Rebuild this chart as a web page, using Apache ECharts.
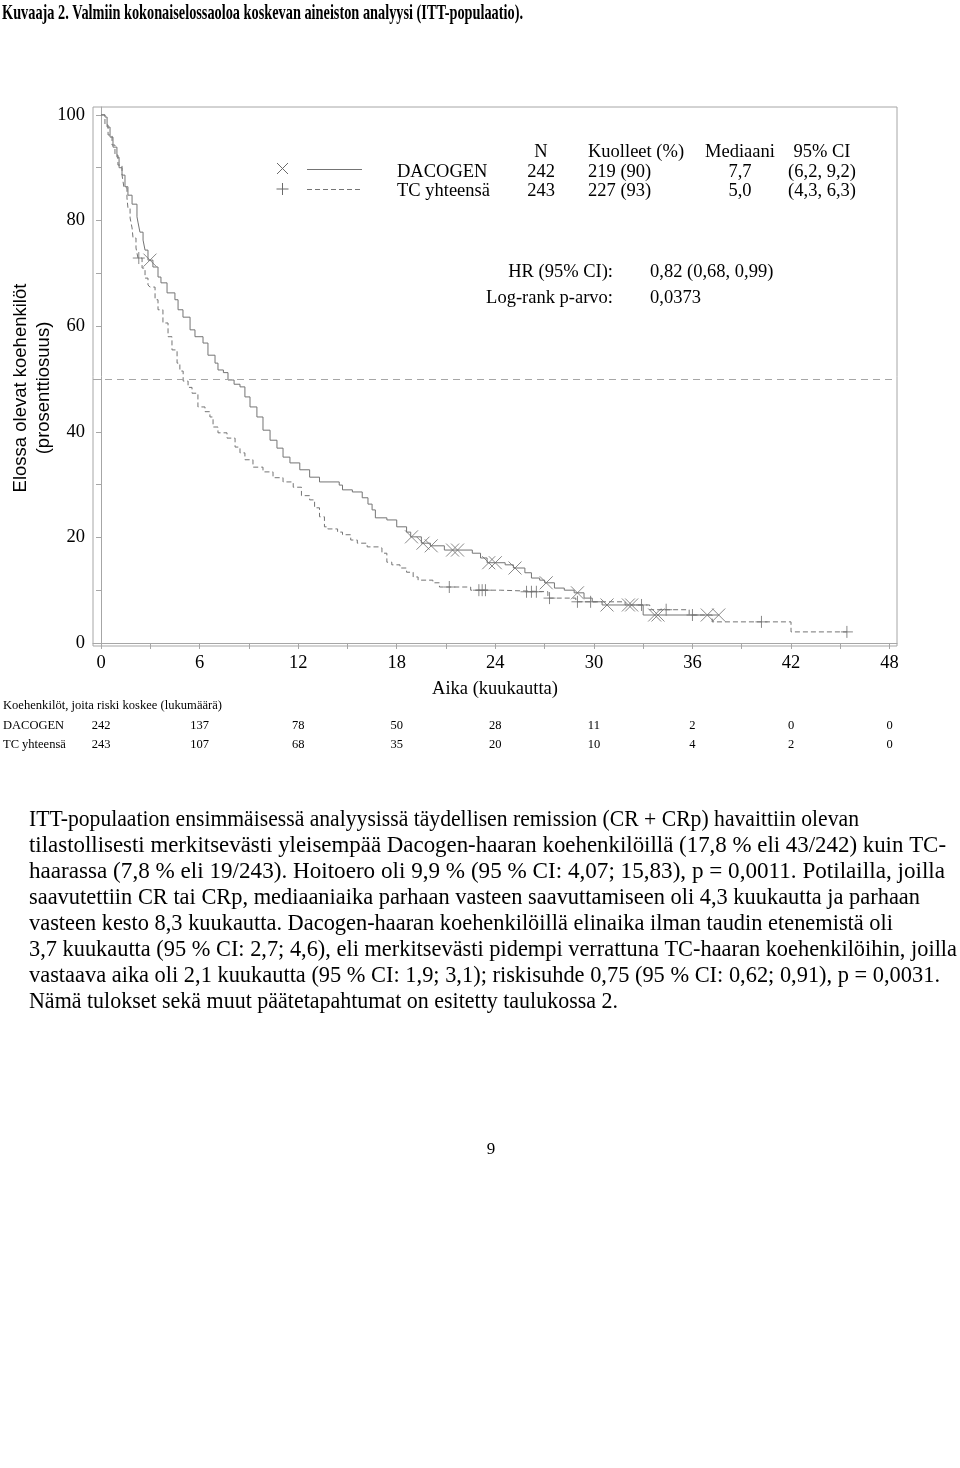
<!DOCTYPE html>
<html><head><meta charset="utf-8">
<script src="https://cdn.jsdelivr.net/npm/echarts@6/dist/echarts.min.js"></script>
<style>html,body{margin:0;padding:0;background:#fff}#c{width:960px;height:1468px}</style>
</head><body><div id="c"></div>
<script>
// ---------- DATA ----------
const monthTicks = [0, 6, 12, 18, 24, 30, 36, 42, 48];
const monthMinorTicks = [0, 3, 6, 9, 12, 15, 18, 21, 24, 27, 30, 33, 36, 39, 42, 45, 48];
const pctTicks = [0, 20, 40, 60, 80, 100];
const pctMinorTicks = [0, 10, 20, 30, 40, 50, 60, 70, 80, 90, 100];
const riskDacogen = [242, 137, 78, 50, 28, 11, 2, 0, 0];
const riskTC = [243, 107, 68, 35, 20, 10, 4, 2, 0];
const medianRef = 50;

const dacogenCurve = [[0,100],[0.24,99.6],[0.37,97.7],[0.55,95.8],[0.73,93.9],[0.97,92.0],[1.10,90.0],[1.28,88.6],[1.46,86.4],[1.64,84.8],[1.89,83.1],[2.19,80.7],[2.25,79.7],[2.37,77.8],[2.56,76.3],[2.68,74.4],[2.86,72.5],[3.16,71.2],[3.47,69.3],[3.65,68.2],[4.02,66.3],[4.50,65.0],[4.69,63.1],[4.99,61.7],[5.42,59.3],[5.72,58.0],[6.21,56.8],[6.51,54.5],[6.94,53.0],[7.12,51.7],[7.45,51.2],[7.73,49.8],[8.1,49.0],[8.46,48.5],[8.76,46.6],[9.07,44.7],[9.49,42.8],[9.86,40.3],[10.29,38.4],[10.71,36.9],[11.08,35.2],[11.5,34.1],[12.1,32.8],[12.7,31.4],[13.3,30.5],[14.5,29.9],[14.7,29.0],[15.3,28.6],[15.9,27.5],[16.25,26.3],[16.5,25.2],[16.7,23.7],[17.4,23.3],[18.0,22.0],[18.6,21.0],[18.85,20.1],[19.5,18.9],[20.05,18.4],[20.9,17.6],[22.6,17.0],[23.1,16.1],[23.5,15.2],[24.6,14.8],[25.1,14.2],[25.8,13.3],[26.2,12.3],[26.7,11.9],[27.0,11.4],[27.6,10.4],[28.2,10.0],[28.8,9.5],[29.4,8.5],[29.9,7.8],[30.5,7.2],[33.0,5.3],[37.6,5.3]];

const tcCurve = [[0,100],[0.24,98.1],[0.43,96.2],[0.67,94.3],[0.85,92.4],[1.03,90.5],[1.28,88.6],[1.40,86.2],[1.58,84.3],[1.64,82.4],[1.77,80.5],[1.89,78.6],[1.95,76.7],[2.13,74.8],[2.25,72.9],[2.50,71.0],[2.68,69.1],[2.86,67.8],[2.98,67.4],[3.29,65.0],[3.47,63.1],[3.77,60.6],[4.08,58.0],[4.32,55.5],[4.63,53.0],[4.8,51.5],[5.0,49.6],[5.3,48.4],[5.54,47.3],[5.90,44.7],[6.33,43.8],[6.63,42.8],[6.82,40.9],[7.12,39.8],[7.67,38.8],[8.16,37.1],[8.46,36.0],[8.76,34.7],[9.25,33.3],[9.86,32.4],[10.47,31.3],[11.08,30.5],[11.7,29.5],[12.2,27.9],[12.7,27.1],[13.0,25.6],[13.3,23.9],[13.6,22.0],[13.8,21.6],[14.4,21.0],[14.7,20.5],[15.2,19.5],[15.6,18.9],[16.2,18.2],[16.9,18.0],[17.1,17.0],[17.4,15.3],[17.7,14.8],[18.2,14.2],[18.6,13.4],[19.0,12.5],[19.3,11.9],[20.2,11.4],[20.6,10.6],[22.5,10.0],[24.3,9.7],[27.2,8.5],[28.9,7.8],[31.9,7.2],[33.4,6.3],[35.8,5.3],[37.2,4.0],[42.0,2.1],[45.4,2.1]];

const dacogenCensored = [[2.98,72.5],[18.9,20.1],[19.6,18.9],[20.1,18.4],[21.4,17.6],[21.7,17.6],[23.6,15.2],[24.0,15.2],[25.2,14.2],[27.1,11.4],[29.0,9.5],[30.8,7.2],[32.1,7.2],[32.3,7.2],[33.7,5.3],[33.9,5.3],[36.9,5.3],[37.6,5.3]];
const tcCensored = [[2.3,72.9],[21.2,10.6],[23.0,10.0],[23.2,10.0],[23.4,10.0],[25.9,9.7],[26.2,9.7],[26.5,9.7],[27.3,8.5],[29.0,7.8],[29.8,7.8],[32.9,7.2],[34.4,6.3],[36.0,5.3],[40.2,4.0],[45.4,2.1]];

const titleText = 'Kuvaaja 2. Valmiin kokonaiselossaoloa koskevan aineiston analyysi (ITT-populaatio).';
const yTitle = ['Elossa olevat koehenkilöt', '(prosenttiosuus)'];
const xTitle = 'Aika (kuukautta)';
const legendHeader = ['N', 'Kuolleet (%)', 'Mediaani', '95% CI'];
const legendRows = [
  ['DACOGEN', '242', '219 (90)', '7,7', '(6,2, 9,2)'],
  ['TC yhteensä', '243', '227 (93)', '5,0', '(4,3, 6,3)']
];
const hrLines = [['HR (95% CI):', '0,82 (0,68, 0,99)'], ['Log-rank p-arvo:', '0,0373']];
const riskHeader = 'Koehenkilöt, joita riski koskee (lukumäärä)';
const riskNames = ['DACOGEN', 'TC yhteensä'];
const paragraph = [
  'ITT-populaation ensimmäisessä analyysissä täydellisen remission (CR + CRp) havaittiin olevan',
  'tilastollisesti merkitsevästi yleisempää Dacogen-haaran koehenkilöillä (17,8 % eli 43/242) kuin TC-',
  'haarassa (7,8 % eli 19/243). Hoitoero oli 9,9 % (95 % CI: 4,07; 15,83), p = 0,0011. Potilailla, joilla',
  'saavutettiin CR tai CRp, mediaaniaika parhaan vasteen saavuttamiseen oli 4,3 kuukautta ja parhaan',
  'vasteen kesto 8,3 kuukautta. Dacogen-haaran koehenkilöillä elinaika ilman taudin etenemistä oli',
  '3,7 kuukautta (95 % CI: 2,7; 4,6), eli merkitsevästi pidempi verrattuna TC-haaran koehenkilöihin, joilla',
  'vastaava aika oli 2,1 kuukautta (95 % CI: 1,9; 3,1); riskisuhde 0,75 (95 % CI: 0,62; 0,91), p = 0,0031.',
  'Nämä tulokset sekä muut päätetapahtumat on esitetty taulukossa 2.'
];
const pageNumber = '9';

// ---------- LAYOUT ----------
const SERIF = '"Liberation Serif", "Times New Roman", serif';
const SANS = '"Liberation Sans", Arial, sans-serif';
const lineColor = '#747474';
const frameColor = '#a6a6a6';
const markColor = '#6a6a6a';
const paragraphRight = [859, 946, 945, 920, 893, 957, 940, 618];

const cvs = document.createElement('canvas').getContext('2d');
function measure(text, font) { cvs.font = font; return cvs.measureText(text).width; }

function txt(text, x, y, size, opts) {
  opts = opts || {};
  const family = opts.family || SERIF;
  const weight = opts.weight || 'normal';
  const font = weight + ' ' + size + 'px ' + family;
  let scaleX = 1;
  if (opts.fitWidth) scaleX = opts.fitWidth / measure(text, font);
  const align = opts.align || 'left';
  return {
    type: 'text', x: x, y: y, scaleX: scaleX, rotation: opts.rotation || 0, silent: true,
    style: {
      text: text, x: 0, y: 0, font: font, fill: opts.color || '#000',
      align: align, textAlign: align, verticalAlign: 'middle', textVerticalAlign: 'middle'
    }
  };
}
function seg(x1, y1, x2, y2, stroke, dash) {
  return { type: 'line', silent: true, shape: { x1, y1, x2, y2 },
    style: { stroke: stroke, lineWidth: 1, lineDash: dash || null } };
}

const graphics = [];
graphics.push(txt(titleText, 2, 14, 21, { weight: 'bold', fitWidth: 521 }));
graphics.push(txt(yTitle[0], 21, 388, 18.5, { family: SANS, align: 'center', rotation: Math.PI / 2 }));
graphics.push(txt(yTitle[1], 44, 388, 18.5, { family: SANS, align: 'center', rotation: Math.PI / 2 }));
const colX = [397, 541, 588, 740, 822];
const colAlign = ['left', 'center', 'left', 'center', 'center'];
legendHeader.forEach((h, i) => graphics.push(txt(h, colX[i + 1], 152.5, 18.5, { align: colAlign[i + 1] })));
legendRows.forEach((row, r) => {
  row.forEach((c, i) => graphics.push(txt(c, colX[i], 172 + r * 19.5, 18.5, { align: colAlign[i] })));
});
graphics.push(seg(277, 163, 288, 174, markColor));
graphics.push(seg(288, 163, 277, 174, markColor));
graphics.push(seg(307, 169.5, 362, 169.5, lineColor));
graphics.push(seg(282.5, 183, 282.5, 195, markColor));
graphics.push(seg(276.5, 189, 288.5, 189, markColor));
graphics.push(seg(307, 189.5, 362, 189.5, lineColor, [5, 3]));
hrLines.forEach((l, i) => {
  graphics.push(txt(l[0], 613, 272 + i * 26, 18.5, { align: 'right' }));
  graphics.push(txt(l[1], 650, 272 + i * 26, 18.5, { align: 'left' }));
});
graphics.push(txt(riskHeader, 3, 706, 13, { fitWidth: 219 }));
riskNames.forEach((n, i) => graphics.push(txt(n, 3, 726 + i * 19, 12.5)));
const pFontSize = 19 * 928 / measure(paragraph[5], '19px ' + SERIF);
paragraph.forEach((l, i) => graphics.push(txt(l, 29, 820 + i * 26, pFontSize, { fitWidth: paragraphRight[i] - 29 })));
graphics.push(txt(pageNumber, 491, 1150, 17, { align: 'center' }));

const riskAxis = (arr, offset) => ({
  type: 'value', gridIndex: 0, position: 'bottom', offset: offset,
  min: -0.487, max: 48.45,
  axisLine: { show: false }, axisTick: { show: false }, splitLine: { show: false },
  axisLabel: {
    customValues: monthTicks, margin: 0, verticalAlign: 'middle',
    fontFamily: SERIF, fontSize: 12.5, color: '#000',
    formatter: v => String(arr[Math.round(v / 6)])
  }
});

const option = {
  animation: false,
  backgroundColor: '#fff',
  grid: { left: 93, right: 63, top: 107, bottom: 822, show: true, borderColor: frameColor, borderWidth: 1 },
  xAxis: [
    {
      type: 'value', min: -0.487, max: 48.45,
      name: xTitle, nameLocation: 'middle', nameGap: 34,
      nameTextStyle: { fontFamily: SERIF, fontSize: 18.5, color: '#000' },
      axisLine: { show: true, lineStyle: { color: frameColor } },
      axisTick: { show: true, customValues: monthMinorTicks, length: 6, lineStyle: { color: frameColor } },
      axisLabel: { customValues: monthTicks, margin: 8, fontFamily: SERIF, fontSize: 18.5, color: '#000' },
      splitLine: { show: false }
    },
    riskAxis(riskDacogen, 80),
    riskAxis(riskTC, 99)
  ],
  yAxis: {
    type: 'value', min: -0.57, max: 101.5,
    axisLine: { show: true, lineStyle: { color: frameColor } },
    axisTick: { show: true, customValues: pctMinorTicks, length: 5, lineStyle: { color: frameColor } },
    axisLabel: { customValues: pctTicks, margin: 8, fontFamily: SERIF, fontSize: 18.5, color: '#000' },
    splitLine: { show: false }
  },
  series: [
    {
      name: 'DACOGEN', type: 'line', step: 'end', data: dacogenCurve, showSymbol: false, silent: true,
      lineStyle: { color: lineColor, width: 1 },
      markLine: {
        silent: true, symbol: ['none', 'none'], label: { show: false },
        lineStyle: { color: frameColor, width: 1, type: [7, 5] },
        data: [{ yAxis: medianRef }]
      }
    },
    {
      name: 'TC yhteensä', type: 'line', step: 'end', data: tcCurve, showSymbol: false, silent: true,
      lineStyle: { color: lineColor, width: 1, type: [5, 3] }
    },
    {
      name: 'DACOGEN censored', type: 'scatter', data: dacogenCensored, silent: true,
      symbol: 'path://M0,0L10,10M10,0L0,10', symbolSize: 13,
      itemStyle: { color: 'rgba(0,0,0,0)', borderColor: markColor, borderWidth: 1 }
    },
    {
      name: 'TC censored', type: 'scatter', data: tcCensored, silent: true,
      symbol: 'path://M5,0L5,10M0,5L10,5', symbolSize: 12,
      itemStyle: { color: 'rgba(0,0,0,0)', borderColor: markColor, borderWidth: 1 }
    }
  ],
  graphic: graphics
};

const chart = echarts.init(document.getElementById('c'), null, { renderer: 'canvas' });
chart.setOption(option);
</script>
</body></html>
